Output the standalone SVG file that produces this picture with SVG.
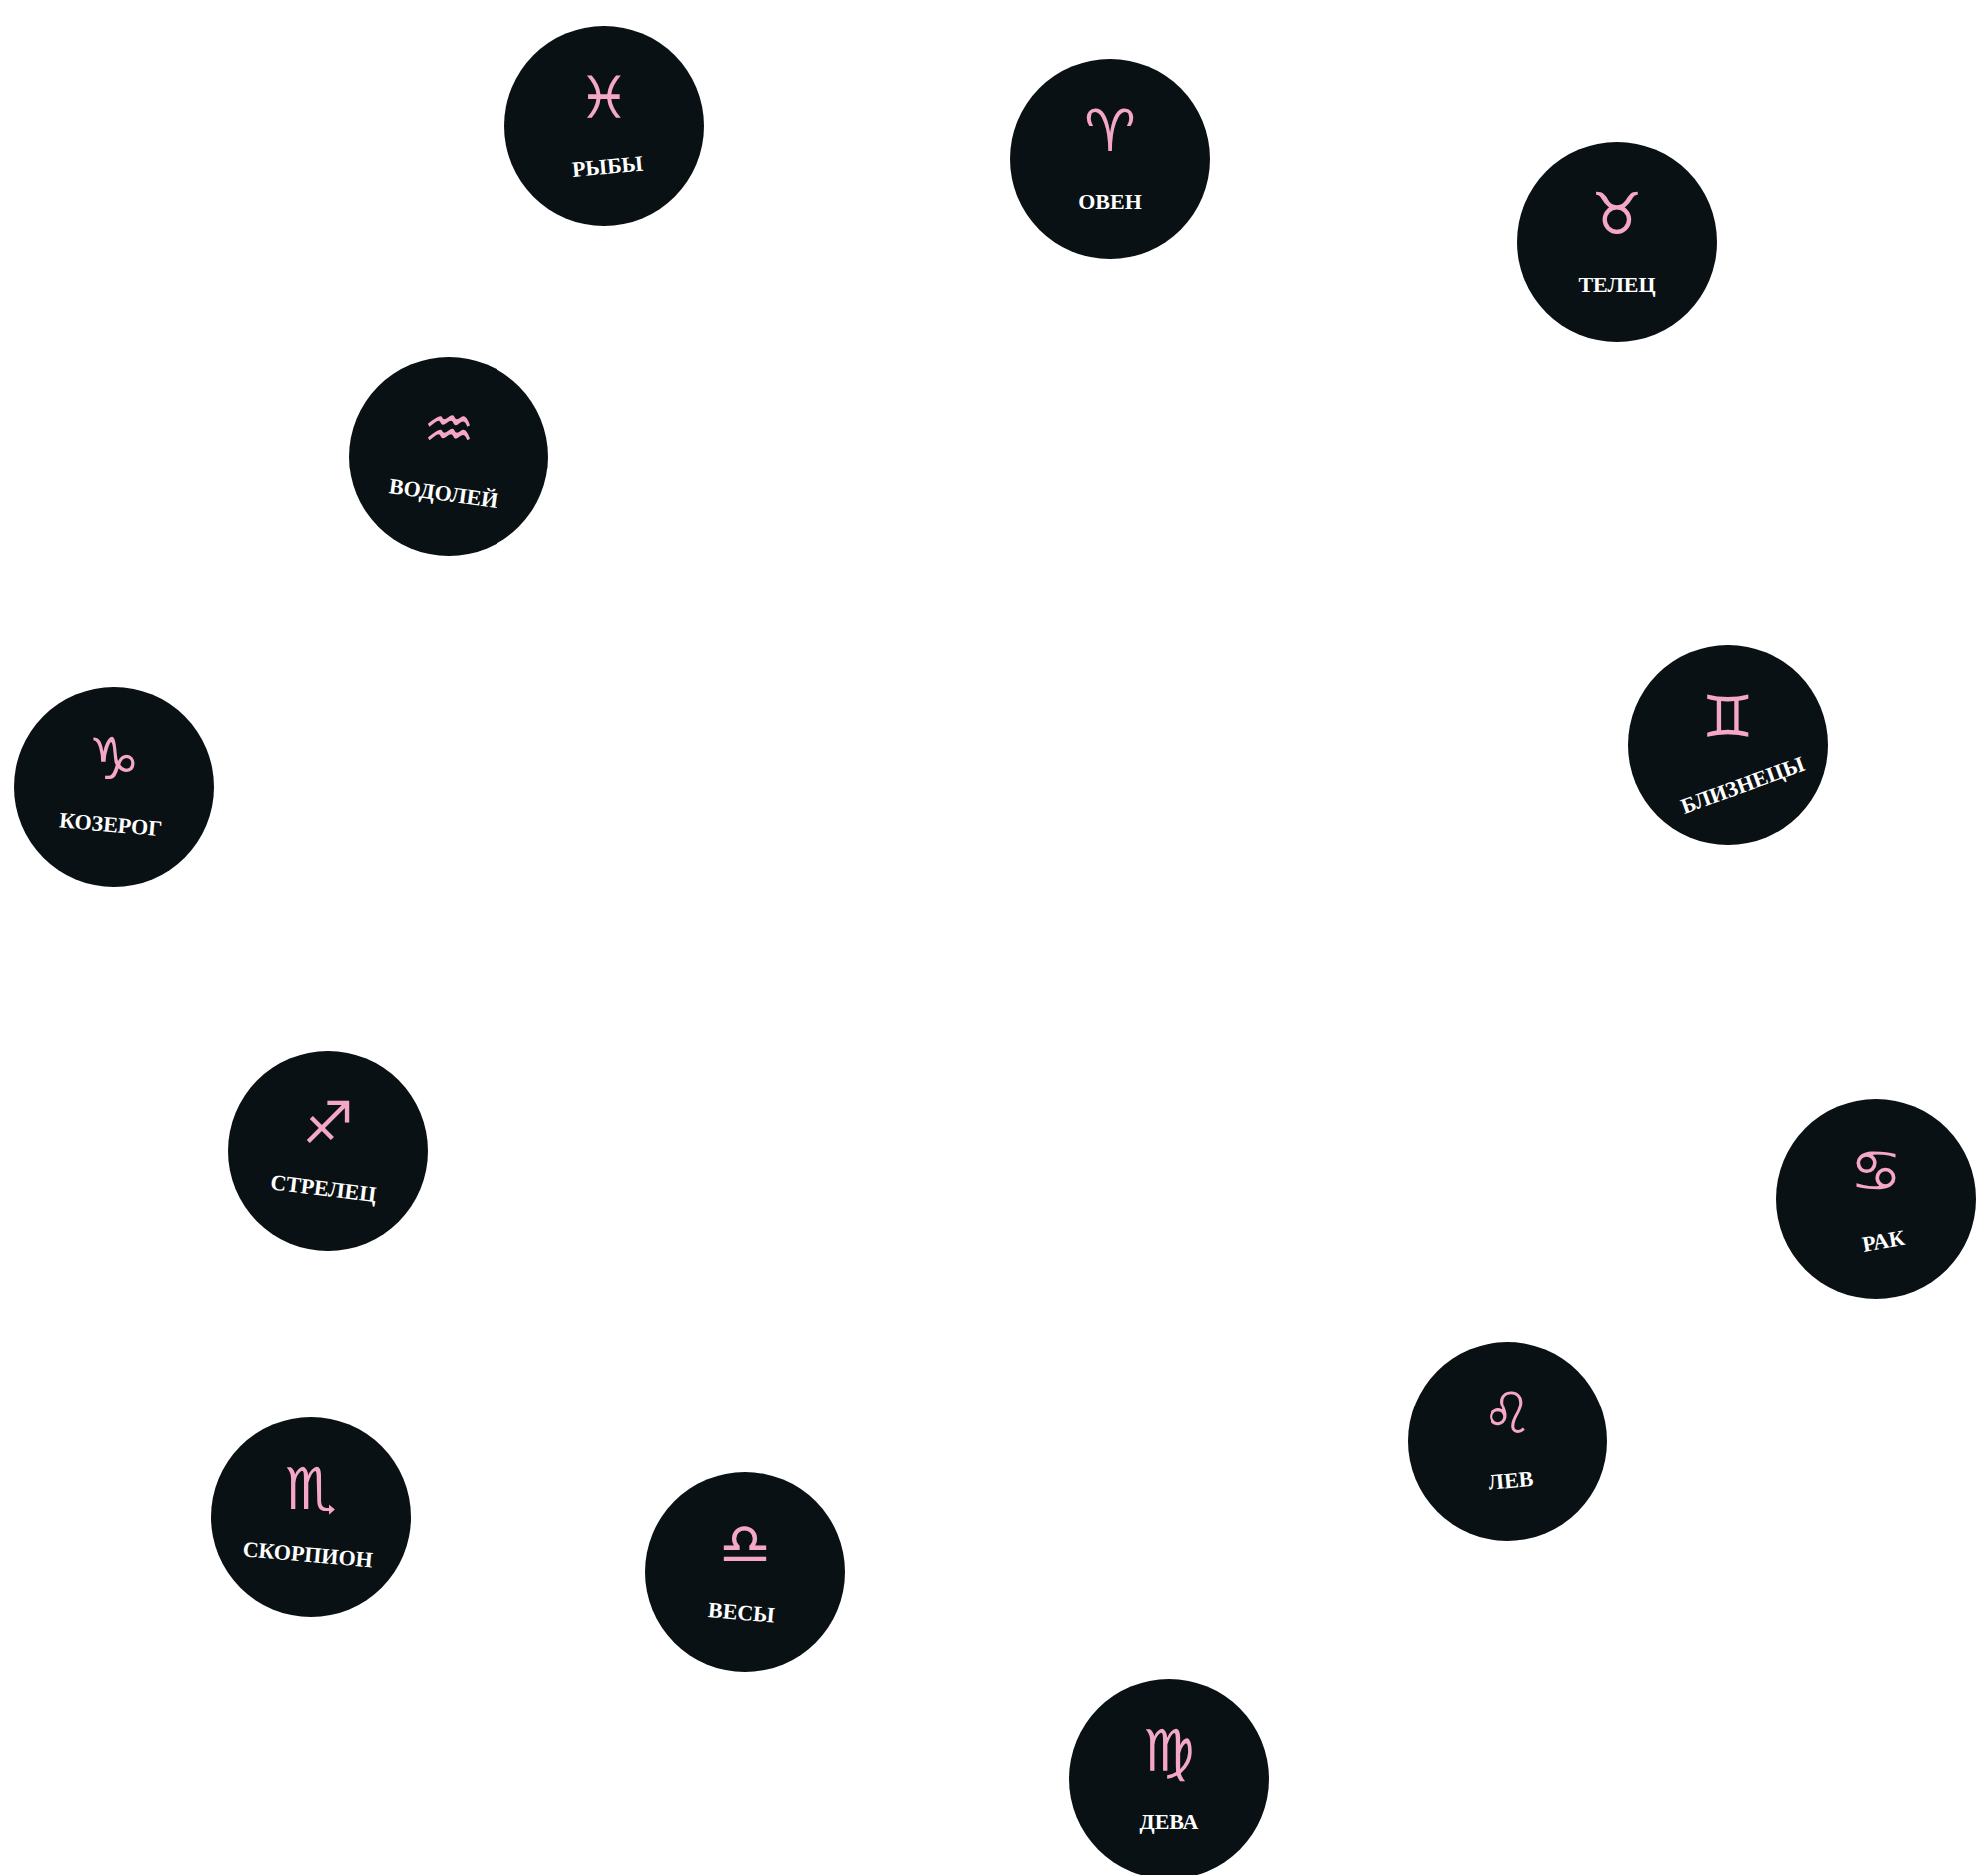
<svg xmlns="http://www.w3.org/2000/svg" width="1990" height="1877" viewBox="0 0 1990 1877">
<style>
.c{fill:#091114}
.s{fill:#f4a7c6;font-family:"DejaVu Sans",sans-serif;font-size:58px;text-anchor:middle}
.l{fill:#ffffff;font-family:"Liberation Serif",serif;font-size:22px;font-weight:bold;text-anchor:middle}
</style>
<rect width="1990" height="1877" fill="#ffffff"/>
<g id="pisces" transform="translate(605,126)"><circle class="c" r="100"/><text class="s" y="-8">♓︎</text><text class="l" y="48" transform="rotate(-5)">РЫБЫ</text></g>
<g id="aries" transform="translate(1111,159)"><circle class="c" r="100"/><text class="s" y="-8">♈︎</text><text class="l" y="50">ОВЕН</text></g>
<g id="taurus" transform="translate(1619,242)"><circle class="c" r="100"/><text class="s" y="-8">♉︎</text><text class="l" y="50">ТЕЛЕЦ</text></g>
<g id="aquarius" transform="translate(449,457)"><circle class="c" r="100"/><text class="s" y="-8">♒︎</text><text class="l" y="45" transform="rotate(8)">ВОДОЛЕЙ</text></g>
<g id="gemini" transform="translate(1730,746)"><circle class="c" r="100"/><text class="s" y="-8">♊︎</text><text class="l" y="50" transform="rotate(-20)">БЛИЗНЕЦЫ</text></g>
<g id="capricorn" transform="translate(114,788)"><circle class="c" r="100"/><text class="s" y="-8">♑︎</text><text class="l" y="45" transform="rotate(5)">КОЗЕРОГ</text></g>
<g id="sagittarius" transform="translate(328,1152)"><circle class="c" r="100"/><text class="s" y="-8">♐︎</text><text class="l" y="45" transform="rotate(7)">СТРЕЛЕЦ</text></g>
<g id="cancer" transform="translate(1878,1200)"><circle class="c" r="100"/><text class="s" y="-8">♋︎</text><text class="l" y="50" transform="rotate(-10)">РАК</text></g>
<g id="leo" transform="translate(1509,1443)"><circle class="c" r="100"/><text class="s" y="-8">♌︎</text><text class="l" y="47" transform="rotate(-5)">ЛЕВ</text></g>
<g id="scorpio" transform="translate(311,1519)"><circle class="c" r="100"/><text class="s" y="-8">♏︎</text><text class="l" y="45" transform="rotate(5)">СКОРПИОН</text></g>
<g id="libra" transform="translate(746,1574)"><circle class="c" r="100"/><text class="s" y="-8">♎︎</text><text class="l" y="48" transform="rotate(5)">ВЕСЫ</text></g>
<g id="virgo" transform="translate(1170,1781)"><circle class="c" r="100"/><text class="s" y="-8">♍︎</text><text class="l" y="50">ДЕВА</text></g>
<g id="connectors"/>
</svg>
